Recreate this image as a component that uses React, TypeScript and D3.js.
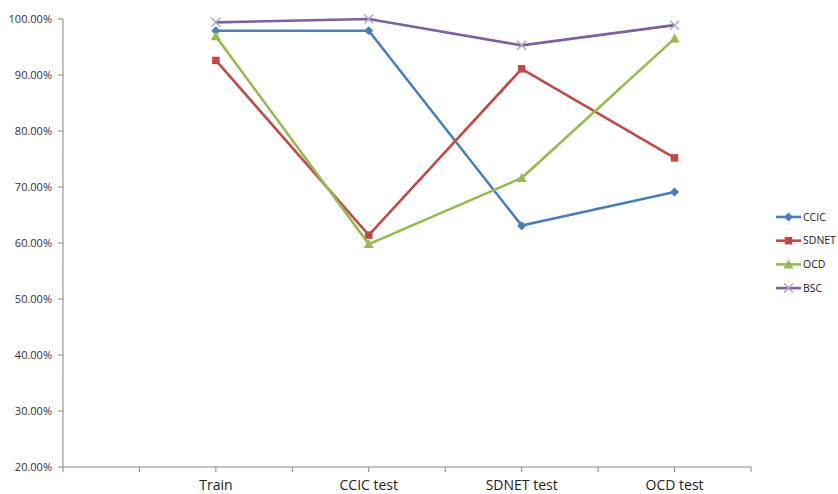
import React from "react";
import * as d3 from "d3";

const categories = ["c0", "c1", "Train", "c3", "CCIC test", "c5", "SDNET test", "c7", "OCD test", "c9"];
const categoryLabels = ["", "", "Train", "", "CCIC test", "", "SDNET test", "", "OCD test", ""];
const dataCategories = ["Train", "CCIC test", "SDNET test", "OCD test"];

const ccic = [97.9, 97.9, 63.1, 69.1];
const sdnet = [92.6, 61.4, 91.1, 75.2];
const ocd = [96.9, 59.8, 71.6, 96.5];
const bsc = [99.4, 100.0, 95.3, 98.9];

const seriesNames = ["CCIC", "SDNET", "OCD", "BSC"];
const seriesColors = ["#4A7EBB", "#BE4B48", "#98B954", "#7D60A0"];
const yTicks = [20, 30, 40, 50, 60, 70, 80, 90, 100];

const W = 838;
const H = 494;

function Marker({ kind, x, y, color }: { kind: number; x: number; y: number; color: string }) {
  if (kind === 0) {
    const r = 4.5;
    return <path d={`M${x},${y - r}L${x + r},${y}L${x},${y + r}L${x - r},${y}Z`} fill={color} />;
  }
  if (kind === 1) {
    const s = 7.5;
    return <rect x={x - s / 2} y={y - s / 2} width={s} height={s} fill={color} />;
  }
  if (kind === 2) {
    const r = 5;
    return <path d={`M${x},${y - r}L${x + r},${y + r * 0.8}L${x - r},${y + r * 0.8}Z`} fill={color} />;
  }
  const r = 4.5;
  return (
    <path
      d={`M${x - r},${y - r}L${x + r},${y + r}M${x - r},${y + r}L${x + r},${y - r}`}
      stroke="#B3A2C7"
      strokeWidth={1.4}
      fill="none"
    />
  );
}

export default function App() {
  const x = d3.scalePoint<string>().domain(categories).range([63, 751]);
  const y = d3.scaleLinear().domain([20, 100]).range([467, 19]);
  const all = [ccic, sdnet, ocd, bsc];
  const line = d3
    .line<number>()
    .x((_, i) => x(dataCategories[i]) as number)
    .y((d) => y(d));
  const axisColor = "#868686";
  const font = "'Open Sans', 'Liberation Sans', sans-serif";

  return (
    <svg width={W} height={H} style={{ position: "absolute", left: 0, top: 0 }}>
      <rect width={W} height={H} fill="#fff" />
      {/* y axis */}
      <line x1={63} x2={63} y1={y(100)} y2={y(20)} stroke={axisColor} strokeWidth={1} />
      {yTicks.map((t) => (
        <g key={t}>
          <line x1={58} x2={63} y1={y(t)} y2={y(t)} stroke={axisColor} />
          <text
            x={52}
            y={y(t)}
            dy="0.35em"
            textAnchor="end"
            fontFamily={font}
            fontSize={11}
            fill="#333"
          >
            {t.toFixed(2) + "%"}
          </text>
        </g>
      ))}
      {/* x axis */}
      <line x1={63} x2={751} y1={y(20)} y2={y(20)} stroke={axisColor} />
      {categories.map((c, i) => (
        <g key={c}>
          <line x1={x(c)} x2={x(c)} y1={y(20)} y2={y(20) + 5} stroke={axisColor} />
          {categoryLabels[i] && (
            <text
              x={x(c)}
              y={490}
              textAnchor="middle"
              fontFamily={font}
              fontSize={14}
              fill="#222"
            >
              {categoryLabels[i]}
            </text>
          )}
        </g>
      ))}
      {/* series */}
      {all.map((vals, si) => (
        <g key={seriesNames[si]}>
          <path d={line(vals) || ""} fill="none" stroke={seriesColors[si]} strokeWidth={2.6} />
          {vals.map((v, i) => (
            <Marker
              key={i}
              kind={si}
              x={x(dataCategories[i]) as number}
              y={y(v)}
              color={seriesColors[si]}
            />
          ))}
        </g>
      ))}
      {/* legend */}
      {seriesNames.map((n, i) => {
        const ly = 217 + i * 23.7;
        return (
          <g key={n}>
            <line x1={776} x2={801} y1={ly} y2={ly} stroke={seriesColors[i]} strokeWidth={2.6} />
            <Marker kind={i} x={788.5} y={ly} color={seriesColors[i]} />
            <text x={803} y={ly} dy="0.35em" fontFamily={font} fontSize={10.5} fill="#222">
              {n}
            </text>
          </g>
        );
      })}
    </svg>
  );
}
